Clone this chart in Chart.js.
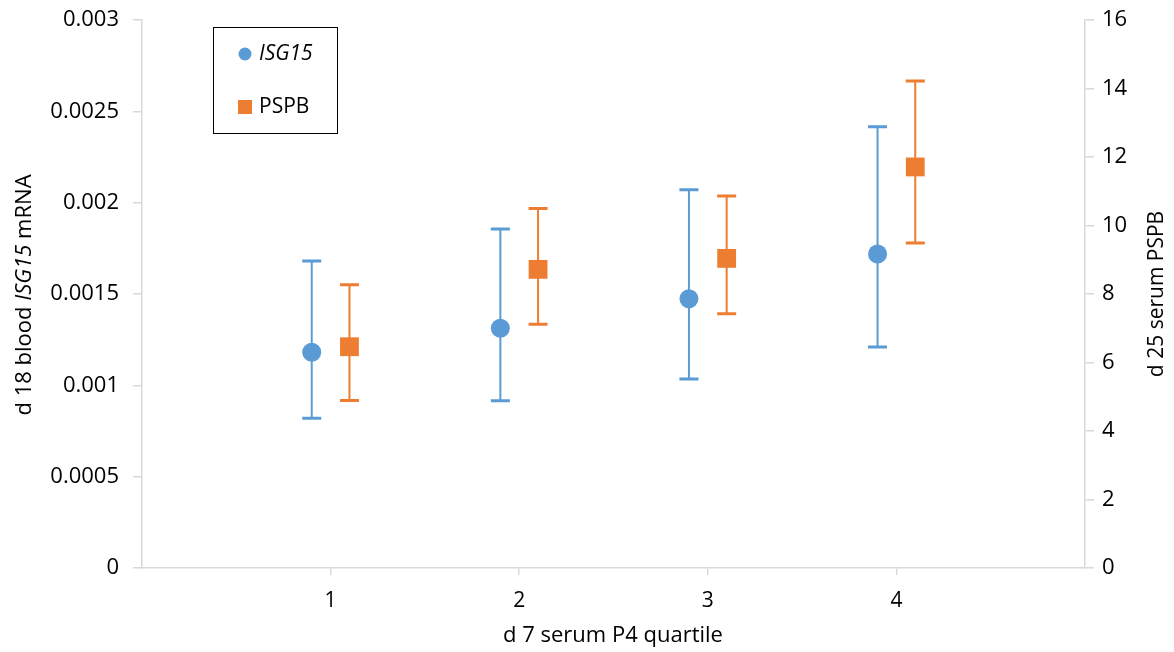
<!DOCTYPE html>
<html>
<head>
<meta charset="utf-8">
<script src="https://cdn.jsdelivr.net/npm/chart.js@4"></script>
<style>
html,body{margin:0;padding:0;background:#fff;}
#wrap{width:1174px;height:652px;position:relative;}
</style>
</head>
<body>
<div id="wrap"><canvas id="c" width="1174" height="652"></canvas></div>
<script>
const categories = [1, 2, 3, 4];
const isgMean  = [0.001181, 0.001312, 0.001474, 0.001719];
const isgLow   = [0.000820, 0.000916, 0.001035, 0.001210];
const isgHigh  = [0.001681, 0.001856, 0.002071, 0.002416];
const pspbMean = [6.46, 8.72, 9.04, 11.71];
const pspbLow  = [4.89, 7.12, 7.42, 9.49];
const pspbHigh = [8.27, 10.50, 10.86, 14.22];
const leftTicks = [0, 0.0005, 0.001, 0.0015, 0.002, 0.0025, 0.003];
const rightTicks = [0, 2, 4, 6, 8, 10, 12, 14, 16];

const BLUE = '#5B9BD5', ORANGE = '#ED7D31';
const FONT = '"Open Sans", "Noto Sans", sans-serif';
const FS = 22;
const OFF = 0.1;

const errorBars = {
  id: 'errorBars',
  beforeDatasetsDraw(chart) {
    const ctx = chart.ctx;
    const xs = chart.scales.x;
    const sets = [
      {yScale: chart.scales.y, low: isgLow, high: isgHigh, off: -OFF, color: BLUE},
      {yScale: chart.scales.y1, low: pspbLow, high: pspbHigh, off: OFF, color: ORANGE}
    ];
    ctx.save();
    sets.forEach(s => {
      categories.forEach((c, i) => {
        const px = xs.getPixelForValue(c + s.off);
        const y1 = s.yScale.getPixelForValue(s.low[i]);
        const y2 = s.yScale.getPixelForValue(s.high[i]);
        ctx.strokeStyle = s.color;
        ctx.lineWidth = 2;
        ctx.beginPath(); ctx.moveTo(px, y1); ctx.lineTo(px, y2); ctx.stroke();
        ctx.lineWidth = 3;
        ctx.beginPath();
        ctx.moveTo(px - 9.5, y1); ctx.lineTo(px + 9.5, y1);
        ctx.moveTo(px - 9.5, y2); ctx.lineTo(px + 9.5, y2);
        ctx.stroke();
      });
    });
    ctx.restore();
  }
};

const decor = {
  id: 'decor',
  afterDraw(chart) {
    const ctx = chart.ctx;
    ctx.save();
    // legend box
    ctx.strokeStyle = '#000';
    ctx.lineWidth = 1;
    ctx.strokeRect(213.5, 27.5, 124, 106);
    ctx.fillStyle = BLUE;
    ctx.beginPath(); ctx.arc(245, 54, 6.5, 0, Math.PI * 2); ctx.fill();
    ctx.fillStyle = ORANGE;
    ctx.fillRect(238, 100, 14, 14);
    ctx.fillStyle = '#000';
    ctx.textBaseline = 'middle';
    ctx.textAlign = 'left';
    ctx.font = 'italic ' + (FS - 1) + 'px ' + FONT;
    ctx.fillText('ISG15', 259, 54);
    ctx.font = (FS - 1) + 'px ' + FONT;
    ctx.fillText('PSPB', 259, 107);

    const TS = FS;
    // x title
    ctx.textAlign = 'center';
    ctx.font = TS + 'px ' + FONT;
    ctx.fillText('d 7 serum P4 quartile', 613, 636);

    // left title (mixed italic)
    const parts = [['d 18 blood ', ''], ['ISG15', 'italic '], [' mRNA', '']];
    ctx.save();
    ctx.translate(25, 295);
    ctx.rotate(-Math.PI / 2);
    let total = 0;
    parts.forEach(p => { ctx.font = p[1] + TS + 'px ' + FONT; total += ctx.measureText(p[0]).width; });
    let x = -total / 2;
    ctx.textAlign = 'left';
    parts.forEach(p => { ctx.font = p[1] + TS + 'px ' + FONT; ctx.fillText(p[0], x, 0); x += ctx.measureText(p[0]).width; });
    ctx.restore();

    // right title
    ctx.save();
    ctx.translate(1157, 294);
    ctx.rotate(-Math.PI / 2);
    ctx.textAlign = 'center';
    ctx.font = (FS - 1) + 'px ' + FONT;
    ctx.fillText('d 25 serum PSPB', 0, 0);
    ctx.restore();
    ctx.restore();
  }
};

new Chart(document.getElementById('c'), {
  type: 'scatter',
  data: {
    datasets: [
      {
        label: 'ISG15',
        data: categories.map((c, i) => ({x: c - OFF, y: isgMean[i]})),
        yAxisID: 'y',
        pointStyle: 'circle',
        pointRadius: 9.5,
        pointHoverRadius: 9.5,
        backgroundColor: BLUE,
        borderColor: BLUE,
        borderWidth: 0
      },
      {
        label: 'PSPB',
        data: categories.map((c, i) => ({x: c + OFF, y: pspbMean[i]})),
        yAxisID: 'y1',
        pointStyle: 'rect',
        pointRadius: 13.3,
        pointHoverRadius: 13.3,
        backgroundColor: ORANGE,
        borderColor: ORANGE,
        borderWidth: 0
      }
    ]
  },
  options: {
    responsive: false,
    animation: false,
    events: [],
    layout: {padding: {top: 20, left: 0, right: 0, bottom: 0}},
    plugins: {legend: {display: false}, tooltip: {enabled: false}},
    scales: {
      x: {
        type: 'linear', min: 0, max: 5,
        afterBuildTicks(s) { s.ticks = categories.map(v => ({value: v})); },
        afterFit(s) { s.height = 84; s.paddingLeft = 0; s.paddingRight = 0; },
        border: {display: true, color: '#d9d9d9', width: 1.5},
        grid: {drawOnChartArea: false, drawTicks: true, tickLength: 7, color: '#d9d9d9', lineWidth: 1.5},
        ticks: {color: '#000', font: {family: FONT, size: FS - 1}, padding: 13, callback: v => String(v)}
      },
      y: {
        position: 'left', min: 0, max: 0.003,
        afterBuildTicks(s) { s.ticks = leftTicks.map(v => ({value: v})); },
        afterFit(s) { s.width = 142; s.paddingTop = 0; s.paddingBottom = 0; },
        border: {display: true, color: '#d9d9d9', width: 1.5},
        grid: {drawOnChartArea: false, drawTicks: true, tickLength: 9, color: '#d9d9d9', lineWidth: 1.5},
        ticks: {color: '#000', font: {family: FONT, size: FS}, padding: 14, callback: v => String(+v.toFixed(4))}
      },
      y1: {
        position: 'right', min: 0, max: 16,
        afterBuildTicks(s) { s.ticks = rightTicks.map(v => ({value: v})); },
        afterFit(s) { s.width = 89; s.paddingTop = 0; s.paddingBottom = 0; },
        border: {display: true, color: '#d9d9d9', width: 1.5},
        grid: {drawOnChartArea: false, drawTicks: true, tickLength: 9, color: '#d9d9d9', lineWidth: 1.5},
        ticks: {color: '#000', font: {family: FONT, size: FS}, padding: 8, callback: v => String(v)}
      }
    }
  },
  plugins: [errorBars, decor]
});
</script>
</body>
</html>
